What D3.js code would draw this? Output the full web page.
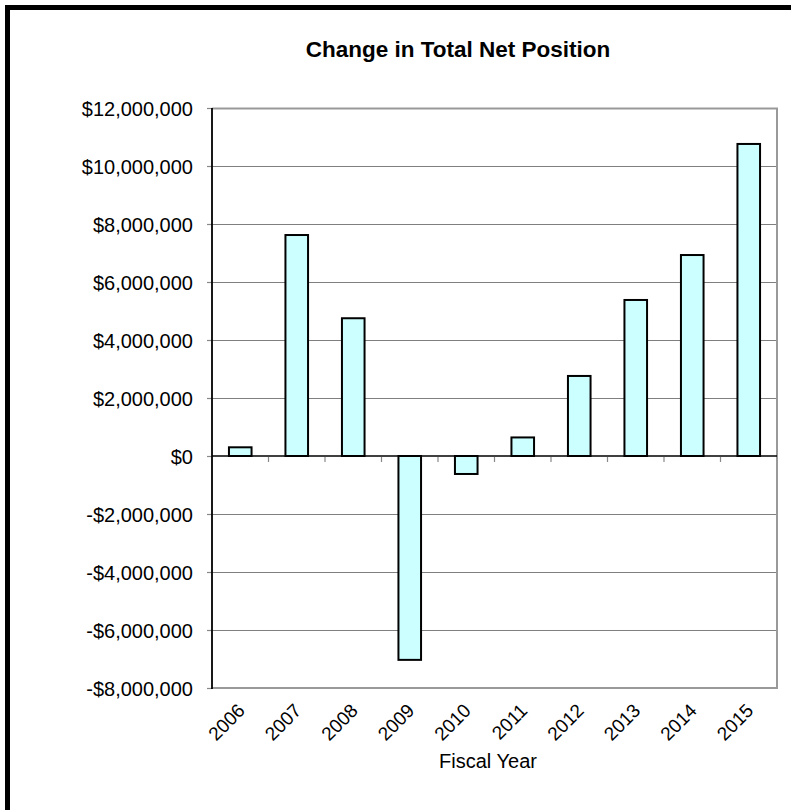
<!DOCTYPE html>
<html>
<head>
<meta charset="utf-8">
<script src="https://cdn.jsdelivr.net/npm/d3@7"></script>
<style>
  html, body { margin: 0; padding: 0; background: #fff; }
  svg { display: block; }
  text { font-family: "Liberation Sans", Arial, Helvetica, sans-serif; fill: #000; }
</style>
</head>
<body>
<svg id="chart" width="791" height="810"></svg>
<script>
// Fiscal years and the yearly change in total net position (dollars)
const years = ["2006", "2007", "2008", "2009", "2010", "2011", "2012", "2013", "2014", "2015"];
const changeInNetPosition = [300000, 7620000, 4750000, -7030000, -620000, 640000, 2760000, 5380000, 6930000, 10760000];
const yTicks = [-8000000, -6000000, -4000000, -2000000, 0, 2000000, 4000000, 6000000, 8000000, 10000000, 12000000];
const chartTitle = "Change in Total Net Position";
const xAxisTitle = "Fiscal Year";

const svg = d3.select("#chart");

// outer frame (right and bottom edges run off the page)
svg.append("rect")
  .attr("x", 7.5).attr("y", 7.5)
  .attr("width", 800).attr("height", 820)
  .attr("fill", "none").attr("stroke", "#000").attr("stroke-width", 5);

const plot = { left: 212, right: 777, top: 108, bottom: 688 };

const x = d3.scaleBand()
  .domain(years)
  .range([plot.left, plot.right])
  .paddingInner(0.6)
  .paddingOuter(0.3);

const y = d3.scaleLinear()
  .domain([d3.min(yTicks), d3.max(yTicks)])
  .range([plot.bottom, plot.top]);

const money = v => (v < 0 ? "-$" : "$") + d3.format(",")(Math.abs(v));

// horizontal gridlines
svg.append("g")
  .selectAll("line")
  .data(yTicks.filter(t => t !== 0 && t !== d3.min(yTicks) && t !== d3.max(yTicks)))
  .join("line")
  .attr("x1", plot.left).attr("x2", plot.right)
  .attr("y1", d => Math.round(y(d)) + 0.5).attr("y2", d => Math.round(y(d)) + 0.5)
  .attr("stroke", "#7f7f7f").attr("stroke-width", 1);

// plot frame: top, right, bottom in gray
svg.append("path")
  .attr("d", `M${plot.left},${plot.top + 0.5}H${plot.right}V${plot.bottom}H${plot.left}`)
  .attr("fill", "none").attr("stroke", "#999").attr("stroke-width", 2);

// y axis with outside ticks
const yAxis = d3.axisLeft(y)
  .tickValues(yTicks)
  .tickFormat(money)
  .tickSize(5)
  .tickPadding(14);

const gy = svg.append("g")
  .attr("transform", `translate(${plot.left},0)`)
  .call(yAxis);
gy.select(".domain").remove();
gy.selectAll(".tick line").attr("stroke", "#888").attr("stroke-width", 1.2);
gy.selectAll(".tick text")
  .style("font-size", "20px")
  .attr("dy", "0.36em")
  .attr("fill", "#000");

// bars
svg.append("g")
  .selectAll("rect")
  .data(years.map((yr, i) => ({ yr, v: changeInNetPosition[i] })))
  .join("rect")
  .attr("x", d => x(d.yr))
  .attr("width", x.bandwidth())
  .attr("y", d => y(Math.max(0, d.v)))
  .attr("height", d => Math.abs(y(d.v) - y(0)))
  .attr("fill", "#ccffff")
  .attr("stroke", "#000")
  .attr("stroke-width", 2);

// zero line with category tick marks
svg.append("line")
  .attr("x1", plot.left).attr("x2", plot.right)
  .attr("y1", y(0)).attr("y2", y(0))
  .attr("stroke", "#000").attr("stroke-width", 1.5);

const step = x.step();
svg.append("g")
  .selectAll("line")
  .data(d3.range(1, years.length))
  .join("line")
  .attr("x1", i => plot.left + i * step).attr("x2", i => plot.left + i * step)
  .attr("y1", y(0) + 1).attr("y2", y(0) + 6)
  .attr("stroke", "#888").attr("stroke-width", 1.2);

// left axis line
svg.append("line")
  .attr("x1", plot.left).attr("x2", plot.left)
  .attr("y1", plot.top).attr("y2", plot.bottom + 1)
  .attr("stroke", "#000").attr("stroke-width", 1.8);

// rotated year labels below the plot
svg.append("g")
  .selectAll("text")
  .data(years)
  .join("text")
  .attr("transform", d => `translate(${x(d) + x.bandwidth() / 2 + 1},${plot.bottom + 19}) rotate(-45)`)
  .attr("text-anchor", "end")
  .attr("dy", "0.36em")
  .style("font-size", "19px")
  .text(d => d);

// axis title
svg.append("text")
  .attr("x", 488).attr("y", 768)
  .attr("text-anchor", "middle")
  .style("font-size", "20px")
  .text(xAxisTitle);

// chart title
svg.append("text")
  .attr("x", 458).attr("y", 57)
  .attr("text-anchor", "middle")
  .style("font-size", "22.5px")
  .style("font-weight", "bold")
  .text(chartTitle);
</script>
</body>
</html>
